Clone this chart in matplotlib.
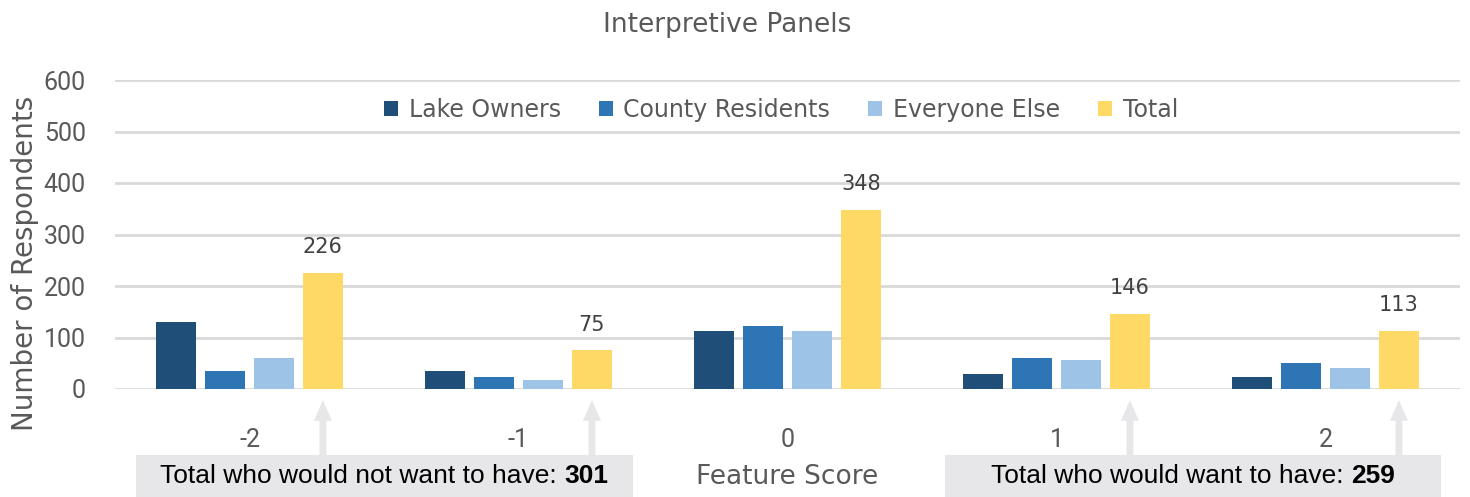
import matplotlib
matplotlib.use("Agg")
import matplotlib.pyplot as plt
import matplotlib.transforms as mtransforms
from matplotlib.patches import Rectangle, Patch
import numpy as np

categories = ["-2", "-1", "0", "1", "2"]
series_names = ["Lake Owners", "County Residents", "Everyone Else", "Total"]
lake_owners = [130, 34, 113, 30, 23]
county_residents = [35, 23, 123, 60, 50]
everyone_else = [61, 18, 112, 56, 40]
total = [226, 75, 348, 146, 113]
colors = ["#1F4E79", "#2E75B6", "#9DC3E6", "#FFD966"]
title = "Interpretive Panels"
ylabel = "Number of Respondents"
xlabel = "Feature Score"
yticks = [0, 100, 200, 300, 400, 500, 600]
box_left_text = "Total who would not want to have: "
box_left_value = "301"
box_right_text = "Total who would want to have: "
box_right_value = "259"

FONT = ["DejaVu Sans"]
TICKFONT = ["Roboto", "DejaVu Sans"]
BOXFONT = ["Liberation Sans", "DejaVu Sans"]
GREY = "#595959"

fig = plt.figure(figsize=(14.7, 4.97), dpi=100)
W, H = 1470, 497
ax = fig.add_axes([115 / W, 1 - 389 / H, (1460 - 115) / W, (389 - 80) / H])

x = np.arange(len(categories))
width = 0.149
step = 0.182
data = [lake_owners, county_residents, everyone_else, total]
for i, (vals, c, name) in enumerate(zip(data, colors, series_names)):
    ax.bar(x + (i - 1.5) * step, vals, width=width, color=c, label=name, zorder=2)

for xi, v in zip(x, total):
    ax.text(xi + 1.5 * step, v + 50, str(v), ha="center", va="center",
            fontsize=15, color="#404040", family=FONT)

ax.set_xlim(-0.5, len(categories) - 0.5)
ax.set_ylim(0, 600)
ax.set_yticks(yticks)
ax.set_yticklabels([str(t) for t in yticks], fontsize=18, color=GREY, family=TICKFONT)
ax.set_xticks(x)
ax.set_xticklabels(categories, fontsize=18, color=GREY, family=TICKFONT)
ax.tick_params(axis="both", length=0)
ax.tick_params(axis="y", pad=21)
ax.tick_params(axis="x", pad=28)
ax.grid(axis="y", color="#D9D9D9", linewidth=2, zorder=0)
for s in ax.spines.values():
    s.set_visible(False)
ax.set_axisbelow(True)

fig.text(727 / W, 1 - 25 / H, title, ha="center", va="center", fontsize=19,
         color=GREY, family=FONT)
fig.text(25 / W, 1 - 263 / H, ylabel, ha="center", va="center", rotation=90,
         fontsize=20, color=GREY, family=FONT)
fig.text(787 / W, 1 - 477 / H, xlabel, ha="center", va="center",
         fontsize=19, color=GREY, family=FONT)

handles = [Patch(facecolor=c, label=n) for c, n in zip(colors, series_names)]
leg = fig.legend(handles=handles, loc="center", bbox_to_anchor=(781 / W, 1 - 110 / H),
                 ncol=4, frameon=False, handlelength=0.6, handleheight=0.6,
                 handletextpad=0.45, columnspacing=1.6,
                 prop={"family": FONT, "size": 17})
for t in leg.get_texts():
    t.set_color(GREY)

# annotation boxes
box_color = "#E7E7E9"
for (l, r) in [(136, 633), (945, 1441)]:
    fig.patches.append(Rectangle((l / W, 0), (r - l) / W, 42 / H, transform=fig.transFigure,
                                 facecolor=box_color, edgecolor="none", zorder=1))

# arrows under total bars
blend = mtransforms.blended_transform_factory(ax.transData, fig.transFigure)
for idx in [0, 1, 3, 4]:
    xa = x[idx] + 1.5 * step
    ax.annotate("", xy=(xa, 1 - 400 / H), xytext=(xa, 1 - 456 / H),
                xycoords=blend, textcoords=blend, annotation_clip=False,
                arrowprops=dict(arrowstyle="simple,head_length=1.5,head_width=1.3,tail_width=0.5",
                                color=box_color, lw=0, shrinkA=0, shrinkB=0))

fig.canvas.draw()
renderer = fig.canvas.get_renderer()
for (l, r), txt, val in [((136, 633), box_left_text, box_left_value),
                         ((945, 1441), box_right_text, box_right_value)]:
    t1 = fig.text(0, 1 - 476 / H, txt, ha="left", va="center", fontsize=19,
                  color="black", family=BOXFONT, zorder=3)
    t2 = fig.text(0, 1 - 476 / H, val, ha="left", va="center", fontsize=19,
                  color="black", family=BOXFONT, fontweight="bold", zorder=3)
    w1 = t1.get_window_extent(renderer).width
    w2 = t2.get_window_extent(renderer).width
    start = (l + r) / 2 - (w1 + w2) / 2
    t1.set_x(start / W)
    t2.set_x((start + w1) / W)

fig.savefig("out.png", dpi=100)
